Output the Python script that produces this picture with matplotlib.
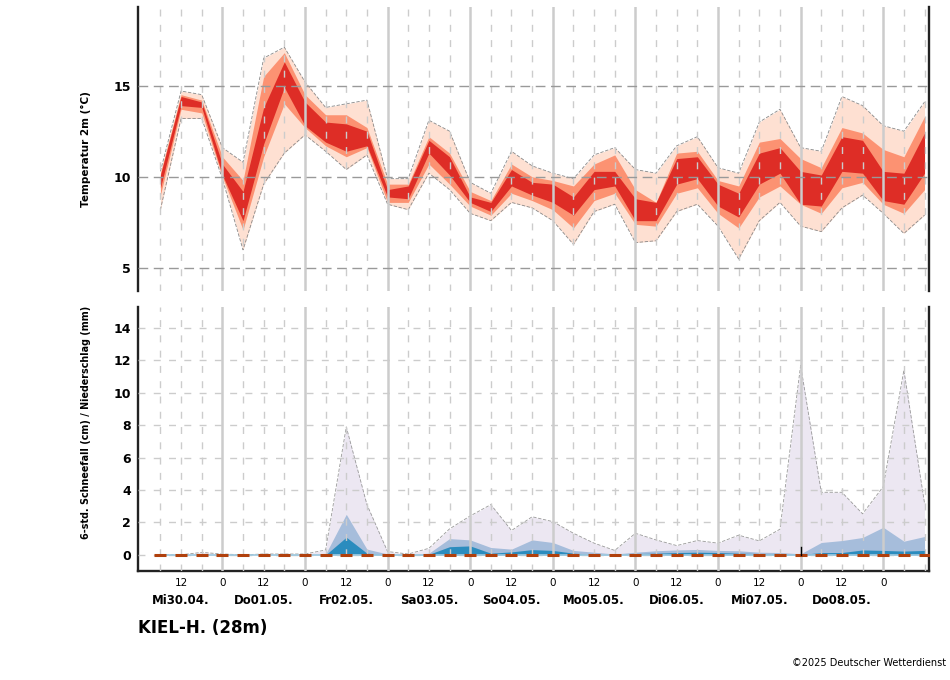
import matplotlib
matplotlib.use("Agg")
import matplotlib.pyplot as plt
import matplotlib.transforms as mtransforms

# forecast hours since Mi30.04. 00 UTC
hours = list(range(6, 229, 6))

# temperature ensemble bands (degC)
t_max = [10.3, 14.7, 14.5, 11.6, 10.8, 16.5, 17.1, 15.2, 13.8, 14.0, 14.2, 9.9, 9.9, 13.1,
         12.5, 9.7, 9.1, 11.4, 10.6, 10.2, 9.9, 11.2, 11.6, 10.4, 10.2, 11.7, 12.2, 10.5,
         10.2, 13.0, 13.7, 11.6, 11.4, 14.4, 13.9, 12.8, 12.5, 14.1]
t_q90 = [10.2, 14.5, 14.2, 11.1, 9.8, 15.5, 16.8, 14.5, 13.4, 13.4, 12.7, 9.6, 9.6, 12.2,
         11.3, 9.2, 8.7, 10.7, 10.0, 9.8, 9.5, 10.7, 11.2, 9.3, 8.6, 11.3, 11.4, 9.8,
         9.5, 11.9, 12.1, 11.0, 10.5, 12.7, 12.4, 11.5, 11.1, 13.3]
t_q75 = [10.1, 14.4, 14.1, 10.7, 9.2, 13.8, 16.3, 14.1, 13.0, 12.9, 12.5, 9.3, 9.5, 12.0,
         11.1, 8.9, 8.6, 10.4, 9.7, 9.6, 8.9, 10.3, 10.3, 8.8, 8.6, 11.0, 11.1, 9.6,
         9.1, 11.3, 11.6, 10.3, 10.1, 12.2, 12.0, 10.3, 10.2, 12.4]
t_q25 = [9.4, 13.9, 13.8, 10.1, 7.6, 11.8, 14.9, 12.8, 11.9, 11.4, 11.7, 8.9, 8.8, 11.3,
         10.1, 8.6, 8.1, 9.5, 9.0, 8.6, 7.9, 9.3, 9.5, 7.6, 7.6, 9.6, 9.9, 8.4,
         7.8, 9.6, 10.2, 8.5, 8.4, 10.3, 10.2, 8.7, 8.5, 10.2]
t_q10 = [9.0, 13.7, 13.5, 10.0, 7.1, 11.1, 14.0, 12.7, 11.7, 11.1, 11.6, 8.6, 8.6, 10.7,
         9.6, 8.4, 7.9, 9.1, 8.7, 8.2, 7.2, 8.7, 9.1, 7.4, 7.3, 9.1, 9.4, 8.0,
         7.2, 8.9, 9.5, 8.5, 8.0, 9.4, 9.7, 8.5, 8.0, 9.3]
t_min = [8.2, 13.2, 13.2, 9.9, 6.0, 9.6, 11.3, 12.3, 11.4, 10.4, 11.2, 8.5, 8.2, 10.2,
         9.3, 8.0, 7.6, 8.6, 8.3, 7.6, 6.3, 8.1, 8.5, 6.4, 6.5, 8.1, 8.5, 7.3,
         5.5, 7.6, 8.6, 7.3, 7.0, 8.3, 9.0, 8.0, 6.9, 7.9]

# precipitation / snowfall ensemble (mm, cm)
p_max = [0.0, 0.0, 0.15, 0.05, 0.0, 0.05, 0.05, 0.05, 0.3, 7.9, 3.1, 0.2, 0.05, 0.4,
         1.6, 2.4, 3.1, 1.5, 2.35, 2.05, 1.33, 0.72, 0.27, 1.33, 0.92, 0.57, 0.88, 0.72,
         1.21, 0.86, 1.58, 11.7, 3.86, 3.86, 2.53, 4.21, 11.4, 3.18]
p_mid = [0.0, 0.0, 0.05, 0.0, 0.0, 0.0, 0.02, 0.02, 0.05, 2.5, 0.35, 0.05, 0.0, 0.1,
         1.0, 0.92, 0.45, 0.35, 0.92, 0.76, 0.27, 0.16, 0.05, 0.16, 0.25, 0.3, 0.33, 0.27,
         0.25, 0.16, 0.14, 0.06, 0.76, 0.88, 1.07, 1.7, 0.84, 1.13]
p_low = [0.0, 0.0, 0.0, 0.0, 0.0, 0.0, 0.0, 0.0, 0.0, 1.09, 0.1, 0.0, 0.0, 0.03,
         0.5, 0.55, 0.1, 0.18, 0.32, 0.27, 0.1, 0.03, 0.0, 0.08, 0.1, 0.14, 0.16, 0.14,
         0.1, 0.08, 0.06, 0.02, 0.14, 0.14, 0.3, 0.27, 0.23, 0.27]
snow_det = [0.0, 0.0, 0.0, 0.0, 0.0, 0.0, 0.0, 0.0, 0.0, 0.0, 0.0, 0.0, 0.0, 0.0,
            0.0, 0.0, 0.0, 0.0, 0.0, 0.0, 0.0, 0.0, 0.0, 0.0, 0.0, 0.0, 0.0, 0.0,
            0.0, 0.0, 0.0, 0.0, 0.0, 0.0, 0.0, 0.0, 0.0, 0.0]

day_names = ["Mi30.04.", "Do01.05.", "Fr02.05.", "Sa03.05.", "So04.05.",
             "Mo05.05.", "Di06.05.", "Mi07.05.", "Do08.05."]
hour_ticks = list(range(12, 217, 12))
hour_labels = ["12" if h % 24 else "0" for h in hour_ticks]
run_hour = 192
station = "KIEL-H. (28m)"

fig = plt.figure(figsize=(9.5, 6.8), dpi=100)
ax1 = fig.add_axes([0.1453, 0.5721, 0.8326, 0.4176])
ax2 = fig.add_axes([0.1453, 0.1603, 0.8326, 0.3882])

xmin, xmax = -0.5, 229.3


def draw_vgrid(ax):
    for h in range(6, 229, 6):
        if h % 24 == 0:
            ax.axvline(h, color="#cccccc", lw=1.8, zorder=3)
        else:
            ax.axvline(h, color="#cccccc", lw=1.0, ls=(0, (5, 6)), zorder=3)


def style_axis(ax):
    ax.spines["top"].set_visible(False)
    for s in ["left", "right"]:
        ax.spines[s].set_linewidth(1.7)
        ax.spines[s].set_color("#222222")
    ax.tick_params(axis="y", length=0, pad=5, labelsize=9)
    for lab in ax.get_yticklabels():
        lab.set_fontweight("bold")
    ax.set_xlim(xmin, xmax)


# ---- temperature
ax1.fill_between(hours, t_min, t_max, color="#fee0d2", lw=0, zorder=1)
ax1.fill_between(hours, t_q10, t_q90, color="#fc9272", lw=0, zorder=1)
ax1.fill_between(hours, t_q25, t_q75, color="#de2d26", lw=0, zorder=2)
ax1.plot(hours, t_max, color="#888888", lw=0.6, ls=(0, (4, 2)), zorder=2)
ax1.plot(hours, t_min, color="#888888", lw=0.6, ls=(0, (4, 2)), zorder=2)
draw_vgrid(ax1)
for v in [5, 10, 15]:
    ax1.axhline(v, color="#999999", lw=1.0, ls=(0, (7, 4)), zorder=4)
ax1.set_ylim(3.75, 19.3)
ax1.set_yticks([5, 10, 15])
ax1.set_xticks([])
ax1.spines["bottom"].set_visible(False)
style_axis(ax1)

# ---- precipitation
ax2.fill_between(hours, 0, p_max, color="#ece7f2", lw=0, zorder=1)
ax2.fill_between(hours, 0, p_mid, color="#a6bddb", lw=0, zorder=1)
ax2.fill_between(hours, 0, p_low, color="#2b8cbe", lw=0, zorder=2)
ax2.plot(hours, p_max, color="#999999", lw=0.6, ls=(0, (4, 2)), zorder=2)
draw_vgrid(ax2)
for v in range(0, 15, 2):
    ax2.axhline(v, color="#cccccc", lw=1.0, ls=(0, (5, 6)), zorder=3)
ax2.plot(hours, snow_det, color="#9ecae1", lw=1.2, zorder=5)
ax2.plot(hours, snow_det, ls="none", marker="_", ms=8, mew=2.2, color="#b0400c", zorder=6)
ax2.plot([run_hour, run_hour], [0, 0.5], color="black", lw=1, zorder=6)
ax2.set_ylim(-1.0, 15.3)
ax2.set_yticks(range(0, 15, 2))
ax2.spines["bottom"].set_linewidth(1.7)
ax2.spines["bottom"].set_color("#222222")
ax2.set_xticks(hour_ticks)
ax2.set_xticklabels(hour_labels)
ax2.tick_params(axis="x", length=0, pad=5, labelsize=7.5)
style_axis(ax2)

trans = mtransforms.blended_transform_factory(ax2.transData, fig.transFigure)
for i, name in enumerate(day_names):
    ax2.text(12 + 24 * i, 1 - 600 / 680, name, transform=trans, ha="center", va="center",
             fontsize=8.5, fontweight="bold")

fig.text(86 / 950, 1 - 149 / 680, "Temperatur 2m (°C)", rotation=90, ha="center",
         va="center", fontsize=7.5, fontweight="bold")
fig.text(86 / 950, 1 - 422 / 680, "6-std. Schneefall (cm) / Niederschlag (mm)", rotation=90,
         ha="center", va="center", fontsize=6.9, fontweight="bold")
fig.text(138 / 950, 1 - 628 / 680, station, ha="left", va="center", fontsize=12,
         fontweight="bold")
fig.text(946 / 950, 1 - 663 / 680, "©2025 Deutscher Wetterdienst", ha="right", va="center",
         fontsize=7)

fig.savefig("out.png", dpi=100)
